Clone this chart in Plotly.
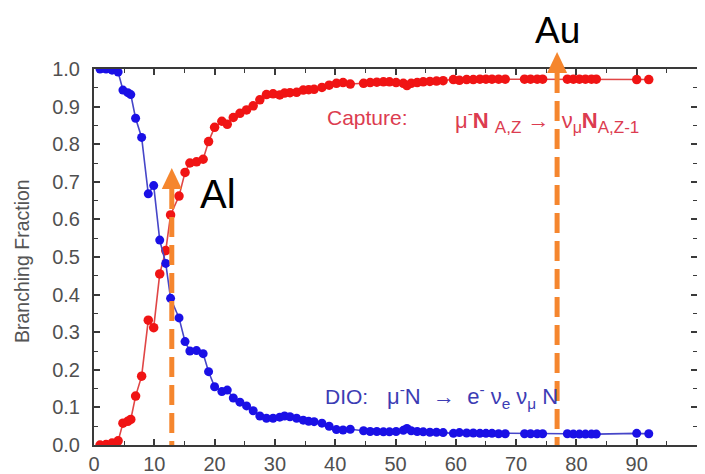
import plotly.graph_objects as go

# ---- data ----
Z = [1.0, 2.0, 3.0, 4.0, 4.8, 5.6, 6.1, 6.9, 7.9, 9.0, 9.9, 10.9, 11.9, 12.7, 14.1,
     15.1, 15.9, 17.0, 18.1, 19.0, 20.0, 21.2, 22.1, 23.1, 24.2, 25.3, 26.4, 27.5,
     28.6, 29.7, 30.8, 31.6, 32.5, 33.6, 34.7, 35.6, 36.5, 37.8, 39.0, 40.2, 41.3,
     42.5, 44.7, 45.8, 46.9, 48.0, 49.0, 50.1, 51.3, 51.9, 52.6, 53.6, 54.6, 55.7,
     56.8, 57.9, 59.6, 60.6, 61.8, 62.9, 64.0, 65.0, 66.0, 67.1, 68.2, 71.4, 72.4,
     73.5, 74.4, 78.5, 79.5, 80.5, 81.5, 82.5, 83.3, 90.0, 92.0]

dio_fraction = [1.000, 1.000, 0.997, 0.992, 0.944, 0.937, 0.932, 0.869, 0.818, 0.668,
                0.690, 0.545, 0.483, 0.390, 0.338, 0.275, 0.250, 0.251, 0.243, 0.195,
                0.155, 0.142, 0.146, 0.125, 0.114, 0.104, 0.091, 0.077, 0.071, 0.071,
                0.074, 0.077, 0.075, 0.071, 0.066, 0.063, 0.062, 0.058, 0.050, 0.041,
                0.040, 0.042, 0.038, 0.036, 0.036, 0.035, 0.035, 0.036, 0.039, 0.044,
                0.038, 0.036, 0.035, 0.034, 0.034, 0.033, 0.031, 0.033, 0.032, 0.032,
                0.031, 0.031, 0.031, 0.030, 0.030, 0.030, 0.030, 0.030, 0.030, 0.030,
                0.029, 0.029, 0.029, 0.029, 0.029, 0.031, 0.030]

capture_fraction = [0.000, 0.001, 0.005, 0.011, 0.058, 0.063, 0.068, 0.130, 0.183, 0.332,
                    0.312, 0.455, 0.517, 0.612, 0.662, 0.725, 0.750, 0.753, 0.760, 0.807,
                    0.845, 0.861, 0.853, 0.871, 0.882, 0.891, 0.902, 0.918, 0.932, 0.934,
                    0.931, 0.936, 0.937, 0.938, 0.944, 0.945, 0.946, 0.951, 0.957, 0.962,
                    0.964, 0.960, 0.962, 0.964, 0.965, 0.966, 0.966, 0.964, 0.962, 0.956,
                    0.962, 0.964, 0.966, 0.967, 0.968, 0.969, 0.972, 0.970, 0.972, 0.972,
                    0.973, 0.973, 0.973, 0.973, 0.973, 0.973, 0.973, 0.973, 0.973, 0.973,
                    0.973, 0.973, 0.973, 0.973, 0.973, 0.972, 0.972]

element_names = ["Al", "Au"]
element_z = [12.9, 76.8]          # where the arrows were drawn on the slide
arrow_tips = [0.737, 1.045]        # arrow tip heights (fraction of plot height)

x_ticks = [0, 10, 20, 30, 40, 50, 60, 70, 80, 90, 100]
y_ticks = [0.0, 0.1, 0.2, 0.3, 0.4, 0.5, 0.6, 0.7, 0.8, 0.9, 1.0]

ORANGE = "#f5862e"
FONT = "Liberation Sans, Arial, sans-serif"
NB = "&nbsp;"

fig = go.Figure()
fig.add_trace(go.Scatter(
    x=Z, y=capture_fraction, mode="lines+markers", name="Capture",
    line=dict(color="#e04646", width=1.6),
    marker=dict(color="#f01414", size=9.5, line=dict(width=0)),
))
fig.add_trace(go.Scatter(
    x=Z, y=dio_fraction, mode="lines+markers", name="DIO",
    line=dict(color="#4646c8", width=1.6),
    marker=dict(color="#1a10e6", size=9, line=dict(width=0)),
))

axis_common = dict(
    showline=True, linecolor="#3a3a3a", linewidth=2, mirror="allticks",
    ticks="inside", ticklen=6, tickwidth=1.6, tickcolor="#3a3a3a",
    showgrid=False, zeroline=False, automargin=False,
    tickfont=dict(family=FONT, size=20, color="#505050"),
)
fig.update_xaxes(range=[0, 100], tickvals=x_ticks, ticktext=[str(v) for v in x_ticks],
                 minor=dict(ticks="inside", dtick=5, tick0=0, ticklen=4, tickwidth=1.4,
                            tickcolor="#3a3a3a", showgrid=False),
                 ticklabelstandoff=0, **axis_common)
fig.update_yaxes(range=[0, 1], tickvals=y_ticks, ticktext=[f"{v:.1f}" for v in y_ticks],
                 minor=dict(ticks="inside", dtick=0.05, tick0=0, ticklen=4, tickwidth=1.4,
                            tickcolor="#3a3a3a", showgrid=False),
                 ticklabelstandoff=8, **axis_common)

shapes = []
head_w, head_h = 10, 21
for z, tip in zip(element_z, arrow_tips):
    head_frac = head_h / 376.0
    shapes.append(dict(type="line", xref="x", yref="paper", x0=z, x1=z,
                       y0=tip - head_frac, y1=0,
                       line=dict(color=ORANGE, width=5, dash="20px,8px"), layer="above"))
    shapes.append(dict(type="path", xref="x", yref="paper", xsizemode="pixel",
                       ysizemode="pixel", xanchor=z, yanchor=tip,
                       path=f"M{-head_w},{-head_h} L{head_w},{-head_h} L0,0 Z",
                       fillcolor=ORANGE, line=dict(color=ORANGE, width=0), layer="above"))

RED_TXT = "#dc3c50"
BLUE_TXT = "#3c3cb4"


def sub(t, px):
    return f"<sub><span style='font-size:{px}px'>{t}</span></sub>"


capture_formula = ("μ<sup>-</sup><b>N</b>" + NB + sub("A,Z", 17) + NB + "→" + NB + NB +
                   "ν" + sub("μ", 16) + "<b>N</b>" + sub("A,Z-1", 17))
dio_formula = ("μ<sup>-</sup>N" + NB * 2 + "→" + NB * 2 + "e<sup>-</sup>" + NB +
               "ν<sub>e</sub>" + NB + "ν<sub>μ</sub>" + NB + "N")

annotations = [
    dict(text=element_names[0], x=element_z[0] + 7.7, y=0.667, xref="x", yref="paper",
         xanchor="center", yanchor="middle", borderpad=0,
         showarrow=False, font=dict(family=FONT, size=40, color="black")),
    dict(text=element_names[1], x=element_z[1], y=1.102, xref="x", yref="paper",
         xanchor="center", yanchor="middle", borderpad=0,
         showarrow=False, font=dict(family=FONT, size=37, color="black")),
    dict(text="Capture:", x=38.3, y=0.87, xref="x", yref="y", xanchor="left",
         yanchor="middle",
         showarrow=False, font=dict(family=FONT, size=21, color=RED_TXT)),
    dict(text=capture_formula, x=59.5, y=0.862, xref="x", yref="y", xanchor="left",
         yanchor="middle",
         showarrow=False, font=dict(family=FONT, size=22, color=RED_TXT)),
    dict(text="DIO:", x=38.0, y=0.13, xref="x", yref="y", xanchor="left",
         yanchor="middle",
         showarrow=False, font=dict(family=FONT, size=21, color=BLUE_TXT)),
    dict(text=dio_formula, x=48.3, y=0.13, xref="x", yref="y", xanchor="left",
         yanchor="middle",
         showarrow=False, font=dict(family=FONT, size=22, color=BLUE_TXT)),
    dict(text="Dukes", x=96.5, y=1.019, xref="x", yref="y", showarrow=False,
         font=dict(family=FONT, size=8, color="#666666")),
    dict(text="Branching Fraction", x=-0.119, y=0.49, xref="paper", yref="paper",
         xanchor="center", yanchor="middle",
         textangle=-90, showarrow=False,
         font=dict(family=FONT, size=19.5, color="#555555")),
]

# the page adds an 8px body margin, so the figure is 8px smaller and margins shifted
fig.update_layout(
    width=697, height=466,
    margin=dict(l=86, r=8, t=61, b=29),
    paper_bgcolor="white", plot_bgcolor="white",
    showlegend=False,
    shapes=shapes, annotations=annotations,
)

fig.write_html("out.html")
